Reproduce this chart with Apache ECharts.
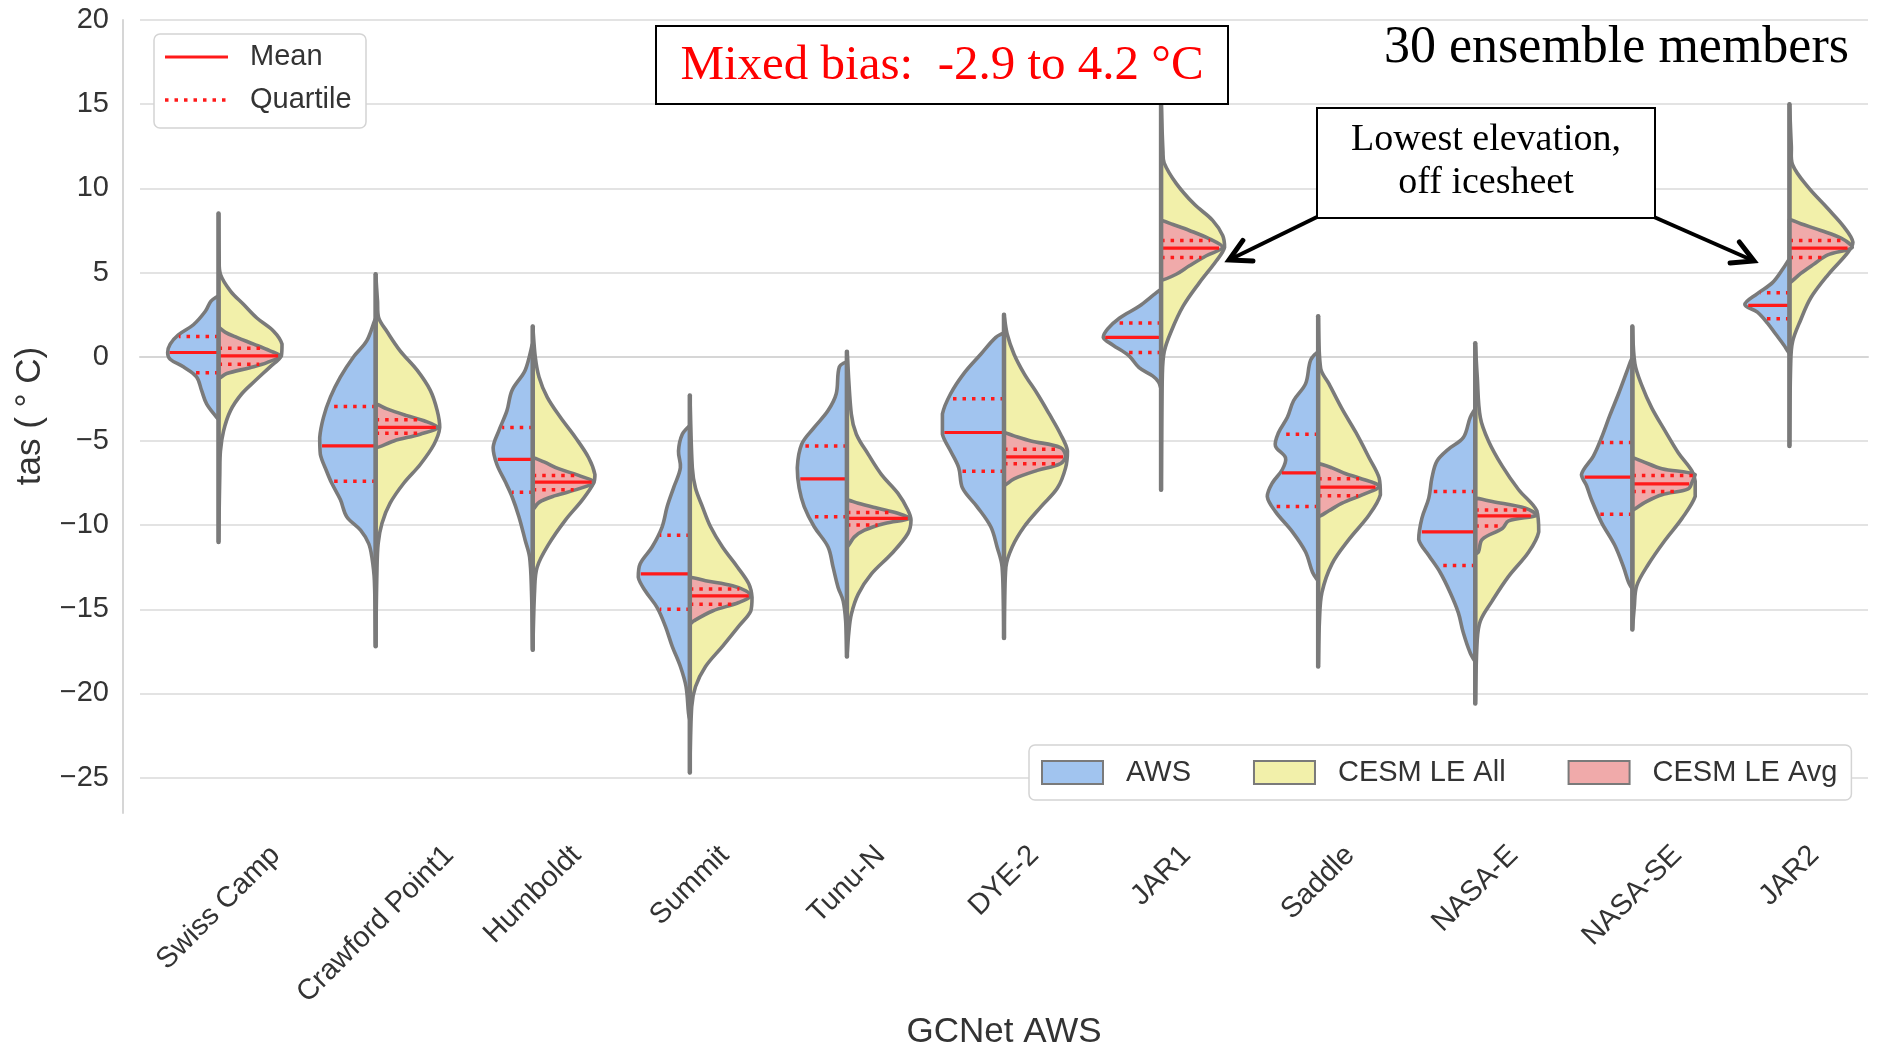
<!DOCTYPE html>
<html>
<head>
<meta charset="utf-8">
<script src="https://cdn.jsdelivr.net/npm/echarts@6/dist/echarts.min.js"></script>
<style>
  html, body { margin: 0; padding: 0; background: #fff; }
  #box { width: 1877px; height: 1054px; }
</style>
</head>
<body>
<div id="box"></div>
<script>
// stations on the x axis
var stations = ['Swiss Camp', 'Crawford Point1', 'Humboldt', 'Summit', 'Tunu-N', 'DYE-2',
  'JAR1', 'Saddle', 'NASA-E', 'NASA-SE', 'JAR2'];

// half-violin outlines, [temperature, relative density], top to bottom
var awsShape = [
  [[3.6,0],[3.3,0.12],[2.7,0.21],[1.9,0.40],[1.3,0.64],[0.75,0.77],[0.25,0.81],[-0.15,0.77],[-0.6,0.56],[-1.2,0.35],[-2.0,0.27],[-2.8,0.19],[-3.6,0.03],[-3.7,0]],
  [[2.3,0],[0.95,0.14],[0,0.35],[-1.2,0.56],[-2.4,0.72],[-3.6,0.83],[-4.8,0.89],[-5.8,0.88],[-6.8,0.78],[-7.5,0.70],[-8.5,0.56],[-9.5,0.46],[-10.3,0.24],[-11.1,0.11],[-11.9,0.06],[-13.3,0.02],[-17.2,0]],
  [[0.8,0],[-0.8,0.12],[-2.0,0.33],[-3.2,0.41],[-4.4,0.54],[-5.4,0.63],[-6.4,0.57],[-7.4,0.44],[-8.3,0.33],[-9.5,0.22],[-10.9,0.12],[-11.9,0.05],[-13.9,0.02],[-17.4,0]],
  [[-4.1,0],[-4.6,0.12],[-5.6,0.18],[-6.6,0.15],[-7.8,0.26],[-8.9,0.36],[-10.1,0.44],[-11.3,0.60],[-12.3,0.79],[-13.1,0.82],[-13.9,0.71],[-14.9,0.52],[-16.0,0.39],[-17.2,0.28],[-18.4,0.15],[-19.6,0.06],[-21.2,0.02],[-21.6,0]],
  [[-0.3,0],[-0.6,0.12],[-2.2,0.17],[-3.2,0.30],[-4.2,0.52],[-5.2,0.72],[-6.6,0.79],[-7.8,0.76],[-8.9,0.68],[-10.1,0.52],[-11.3,0.30],[-12.5,0.22],[-13.7,0.14],[-14.5,0.06],[-15.7,0.02],[-17.8,0]],
  [[1.4,0],[1.15,0.13],[0.15,0.37],[-1.0,0.64],[-2.2,0.85],[-3.4,0.98],[-4.6,0.98],[-5.6,0.85],[-6.6,0.72],[-7.8,0.66],[-8.9,0.43],[-10.1,0.21],[-11.3,0.11],[-12.5,0.03],[-16.7,0]],
  [[4.0,0],[3.7,0.11],[3.0,0.35],[2.3,0.66],[1.65,0.85],[1.15,0.92],[0.7,0.77],[0.05,0.51],[-0.65,0.35],[-1.15,0.13],[-1.5,0.04],[-1.9,0]],
  [[0.3,0],[-0.2,0.12],[-1.6,0.20],[-2.6,0.39],[-3.6,0.49],[-4.5,0.63],[-5.3,0.68],[-6.0,0.52],[-6.7,0.57],[-7.5,0.73],[-8.3,0.81],[-9.2,0.68],[-10.4,0.41],[-11.6,0.20],[-12.8,0.09],[-13.3,0]],
  [[-3.1,0],[-3.6,0.08],[-4.8,0.19],[-5.5,0.43],[-6.2,0.61],[-7.2,0.69],[-8.4,0.74],[-9.6,0.85],[-10.85,0.90],[-11.8,0.74],[-12.8,0.56],[-14.0,0.40],[-15.2,0.27],[-16.4,0.19],[-17.6,0.08],[-18.1,0]],
  [[0.0,0],[-0.9,0.09],[-2.2,0.22],[-3.5,0.36],[-4.8,0.49],[-5.9,0.62],[-7.0,0.81],[-7.65,0.73],[-8.5,0.65],[-9.85,0.49],[-11.2,0.28],[-12.5,0.14],[-13.4,0.06],[-13.8,0]],
  [[5.8,0],[5.3,0.09],[4.4,0.27],[3.75,0.51],[3.1,0.71],[2.65,0.51],[2.0,0.35],[1.35,0.22],[0.7,0.09],[0.2,0]]
];

var cesmAllShape = [
  [[8.5,0],[5.9,0.01],[4.9,0.03],[3.9,0.19],[3.1,0.40],[2.3,0.61],[1.5,0.88],[0.75,1.01],[0.05,1.0],[-0.6,0.82],[-1.4,0.59],[-2.2,0.37],[-3.2,0.19],[-4.4,0.08],[-5.6,0.03],[-7.0,0.02],[-11.0,0]],
  [[4.9,0],[3.3,0.03],[2.3,0.05],[1.5,0.18],[0.35,0.39],[-0.8,0.66],[-2.0,0.87],[-3.2,0.98],[-4.2,1.02],[-5.2,0.93],[-6.4,0.71],[-7.5,0.45],[-8.7,0.23],[-9.9,0.10],[-11.1,0.04],[-12.9,0.02],[-17.2,0]],
  [[1.8,0],[0,0.04],[-1.2,0.10],[-2.4,0.23],[-3.6,0.44],[-4.8,0.68],[-6.0,0.89],[-7.0,0.99],[-7.5,0.97],[-8.5,0.79],[-9.7,0.52],[-11.1,0.26],[-12.5,0.07],[-13.9,0.03],[-17.4,0]],
  [[-2.3,0],[-6.6,0.04],[-7.8,0.09],[-8.9,0.20],[-10.1,0.33],[-11.3,0.52],[-12.5,0.76],[-13.5,0.94],[-14.3,0.99],[-15.1,0.97],[-16.0,0.78],[-17.2,0.52],[-18.4,0.25],[-19.6,0.09],[-20.8,0.03],[-24.7,0]],
  [[0.3,0],[-3.4,0.07],[-4.6,0.15],[-5.8,0.34],[-7.0,0.55],[-8.1,0.81],[-9.1,0.97],[-9.7,1.02],[-10.5,0.97],[-11.7,0.71],[-12.9,0.39],[-14.1,0.18],[-15.3,0.07],[-16.4,0.03],[-17.8,0]],
  [[2.5,0],[1.35,0.05],[0.15,0.16],[-1.0,0.32],[-2.2,0.53],[-3.4,0.72],[-4.6,0.90],[-5.6,1.01],[-6.6,0.98],[-7.8,0.85],[-8.9,0.59],[-10.1,0.32],[-11.3,0.13],[-12.5,0.03],[-16.7,0]],
  [[15.0,0],[12.2,0.03],[11.5,0.05],[10.3,0.24],[9.05,0.53],[8.1,0.82],[7.2,0.98],[6.5,1.01],[5.7,0.88],[4.4,0.61],[3.0,0.35],[1.5,0.16],[0.3,0.05],[-1.1,0.02],[-7.9,0]],
  [[2.4,0],[-0.7,0.04],[-1.6,0.17],[-3.1,0.38],[-4.5,0.60],[-6.0,0.81],[-7.2,0.97],[-8.2,0.99],[-9.4,0.81],[-10.85,0.49],[-12.3,0.22],[-14.0,0.06],[-15.7,0.02],[-18.4,0]],
  [[0.8,0],[-1.1,0.03],[-3.6,0.08],[-5.0,0.21],[-6.5,0.43],[-7.9,0.69],[-9.15,0.98],[-10.4,1.01],[-11.6,0.85],[-13.05,0.53],[-14.5,0.27],[-15.7,0.08],[-16.9,0.03],[-20.6,0]],
  [[1.8,0],[-0.4,0.04],[-1.7,0.15],[-3.05,0.31],[-4.4,0.52],[-5.7,0.73],[-6.8,0.95],[-7.4,1.0],[-8.3,1.0],[-9.6,0.79],[-10.9,0.52],[-12.3,0.26],[-13.6,0.07],[-14.9,0.03],[-16.2,0]],
  [[15.0,0],[12.5,0.03],[11.4,0.05],[10.1,0.29],[8.8,0.61],[7.7,0.87],[6.8,1.01],[6.2,0.93],[4.85,0.61],[3.5,0.34],[2.2,0.18],[0.9,0.05],[-0.4,0.02],[-5.3,0]]
];

var cesmAvgShape = [
  [[1.75,0],[1.45,0.11],[1.15,0.29],[0.75,0.56],[0.35,0.82],[0.05,0.98],[-0.35,0.77],[-0.65,0.50],[-1.0,0.13],[-1.3,0]],
  [[-2.8,0],[-3.1,0.18],[-3.5,0.50],[-3.8,0.77],[-4.2,0.99],[-4.6,0.71],[-5.0,0.29],[-5.4,0]],
  [[-6.0,0],[-6.25,0.18],[-6.65,0.41],[-7.05,0.73],[-7.45,0.97],[-7.85,0.73],[-8.25,0.36],[-8.65,0.10],[-9.1,0]],
  [[-13.1,0],[-13.3,0.25],[-13.6,0.68],[-13.9,0.89],[-14.2,0.97],[-14.6,0.78],[-15.1,0.36],[-15.7,0.06],[-15.9,0]],
  [[-8.5,0],[-8.7,0.18],[-9.0,0.49],[-9.3,0.81],[-9.6,1.0],[-9.9,0.60],[-10.3,0.28],[-10.7,0.12],[-11.3,0]],
  [[-4.5,0],[-4.7,0.16],[-5.0,0.43],[-5.4,0.90],[-5.9,0.98],[-6.35,0.90],[-6.75,0.53],[-7.25,0.16],[-7.65,0]],
  [[8.1,0],[7.85,0.19],[7.5,0.45],[7.0,0.77],[6.5,0.98],[6.0,0.72],[5.4,0.45],[4.9,0.24],[4.55,0]],
  [[-6.35,0],[-6.6,0.22],[-6.95,0.44],[-7.2,0.65],[-7.7,0.97],[-8.2,0.70],[-8.7,0.38],[-9.15,0.17],[-9.5,0]],
  [[-8.4,0],[-8.6,0.27],[-9.0,0.80],[-9.4,0.98],[-9.75,0.53],[-10.2,0.43],[-10.85,0.11],[-11.6,0.05],[-11.7,0]],
  [[-6.0,0],[-6.2,0.15],[-6.65,0.47],[-7.0,1.0],[-7.45,0.95],[-7.85,0.89],[-8.2,0.47],[-8.65,0.20],[-9.1,0]],
  [[8.15,0],[7.9,0.18],[7.5,0.50],[7.05,0.82],[6.5,1.0],[6.05,0.61],[5.5,0.39],[4.95,0.18],[4.4,0]]
];

// mean and quartiles (upper / lower)
var awsMean = [0.25, -5.3, -6.1, -12.9, -7.25, -4.5, 1.15, -6.9, -10.4, -7.15, 3.05];
var awsQ3 = [1.2, -2.95, -4.2, -10.6, -5.3, -2.5, 2.0, -4.6, -8.0, -5.1, 3.8];
var awsQ1 = [-0.95, -7.4, -8.05, -15.0, -9.5, -6.8, 0.25, -8.9, -12.4, -9.35, 2.25];
var avgMean = [0.05, -4.2, -7.45, -14.2, -9.6, -5.95, 6.45, -7.75, -9.45, -7.55, 6.45];
var avgQ3 = [0.5, -3.75, -7.05, -13.8, -9.25, -5.5, 6.9, -7.25, -9.1, -7.05, 6.9];
var avgQ1 = [-0.45, -4.55, -7.9, -14.7, -10.0, -6.35, 5.9, -8.25, -10.05, -8.0, 5.9];

var yTicks = [-25, -20, -15, -10, -5, 0, 5, 10, 15, 20];
var yMin = -27.1, yMax = 20;

var BLUE = '#a1c4ef', YELLOW = '#f2f0aa', PINK = '#f0aaaa';
var EDGE = '#7a7a7a', RED = '#ff1a1a';
var SANS = '"Liberation Sans", Arial, sans-serif';
var SERIF = '"Liberation Serif", "Times New Roman", serif';

var myChart = echarts.init(document.getElementById('box'));

function widthAt(prof, v) {
  for (var k = 0; k < prof.length - 1; k++) {
    var a = prof[k], b = prof[k + 1];
    if (v <= a[0] && v >= b[0]) {
      var t = (a[0] - v) / (a[0] - b[0] || 1);
      return a[1] + (b[1] - a[1]) * t;
    }
  }
  return 0;
}

function halfViolin(api, i, prof, side, fill) {
  var hw = api.size([1, 0])[0] * 0.4;
  var cx = api.coord([i, 0])[0];
  var pts = prof.map(function (p) {
    return [cx + side * p[1] * hw, api.coord([i, p[0]])[1]];
  });
  var top = prof[0][0], bot = prof[prof.length - 1][0];
  for (var k = 1; k < 4; k++) {
    pts.push([cx, api.coord([i, bot + (top - bot) * k / 4])[1]]);
  }
  var xs = pts.map(function (p) { return p[0]; });
  var ys = pts.map(function (p) { return p[1]; });
  var box = [[Math.min.apply(null, xs), Math.min.apply(null, ys)], [Math.max.apply(null, xs), Math.max.apply(null, ys)]];
  return {
    type: 'polygon',
    shape: { points: pts, smooth: 0.35, smoothConstraint: box },
    style: { fill: fill, stroke: EDGE, lineWidth: 3.6, lineJoin: 'round' }
  };
}

function statLine(api, i, prof, side, v, dotted) {
  var hw = api.size([1, 0])[0] * 0.4;
  var cx = api.coord([i, 0])[0];
  var y = api.coord([i, v])[1];
  var w = widthAt(prof, v) * hw - 2;
  return {
    type: 'line',
    shape: { x1: cx, y1: y, x2: cx + side * w, y2: y },
    style: { stroke: RED, lineWidth: dotted ? 3.5 : 3.2, lineDash: dotted ? [3.5, 6] : null }
  };
}

function renderAll(params, api) {
  var i = params.dataIndex;
  return { type: 'group', children: [halfViolin(api, i, cesmAllShape[i], 1, YELLOW)] };
}

function renderAvg(params, api) {
  var i = params.dataIndex, p = cesmAvgShape[i];
  return {
    type: 'group',
    children: [
      halfViolin(api, i, p, 1, PINK),
      statLine(api, i, p, 1, avgQ3[i], true),
      statLine(api, i, p, 1, avgQ1[i], true),
      statLine(api, i, p, 1, avgMean[i], false)
    ]
  };
}

function renderAws(params, api) {
  var i = params.dataIndex, p = awsShape[i];
  return {
    type: 'group',
    children: [
      halfViolin(api, i, p, -1, BLUE),
      statLine(api, i, p, -1, awsQ3[i], true),
      statLine(api, i, p, -1, awsQ1[i], true),
      statLine(api, i, p, -1, awsMean[i], false)
    ]
  };
}

// the grey split line running through every violin
function renderStem(params, api) {
  var i = params.dataIndex;
  var all = [awsShape[i], cesmAllShape[i], cesmAvgShape[i]];
  var top = Math.max.apply(null, all.map(function (p) { return p[0][0]; }));
  var bot = Math.min.apply(null, all.map(function (p) { return p[p.length - 1][0]; }));
  var a = api.coord([i, top]), b = api.coord([i, bot]);
  return {
    type: 'line',
    shape: { x1: a[0], y1: a[1], x2: b[0], y2: b[1] },
    style: { stroke: EDGE, lineWidth: 4.5, lineCap: 'round' }
  };
}

var measureCtx = document.createElement('canvas').getContext('2d');
measureCtx.font = '29px ' + SANS;

// rotated tick labels, centred under each violin like matplotlib
function renderLabel(params, api) {
  var i = params.dataIndex;
  var cx = api.coord([i, 0])[0];
  var top = api.coord([i, yMin])[1] + 30;
  var w = measureCtx.measureText(stations[i]).width;
  var half = (w + 22) * Math.SQRT1_2 / 2;
  return {
    type: 'text',
    x: cx,
    y: top + half,
    rotation: Math.PI / 4,
    style: { text: stations[i], font: '29px ' + SANS, fill: '#333', align: 'center', verticalAlign: 'middle' }
  };
}

var seriesData = stations.map(function (s, i) { return [i, awsMean[i]]; });

function arrow(x1, y1, x2, y2) {
  var ang = Math.atan2(y2 - y1, x2 - x1), len = 24, spread = 0.5;
  var p1 = [x2 - len * Math.cos(ang - spread), y2 - len * Math.sin(ang - spread)];
  var p2 = [x2 - len * Math.cos(ang + spread), y2 - len * Math.sin(ang + spread)];
  return [
    { type: 'line', shape: { x1: x1, y1: y1, x2: x2, y2: y2 }, style: { stroke: '#000', lineWidth: 4 } },
    { type: 'polyline', shape: { points: [p1, [x2, y2], p2] }, style: { stroke: '#000', lineWidth: 5, fill: null, lineCap: 'round', lineJoin: 'miter' } }
  ];
}

var option = {
  animation: false,
  backgroundColor: '#fff',
  grid: { left: 140, right: 9, top: 20, bottom: 241, containLabel: false },
  xAxis: {
    type: 'category',
    data: stations,
    offset: 15,
    axisLine: { lineStyle: { color: '#d6d6d6', width: 2 } },
    axisTick: { show: false },
    axisLabel: { show: false },
    splitLine: { show: false }
  },
  yAxis: {
    type: 'value',
    min: yMin,
    max: yMax,
    minInterval: 5,
    maxInterval: 5,
    offset: 17,
    axisLine: { show: true, lineStyle: { color: '#d6d6d6', width: 2 } },
    axisTick: { show: false },
    axisLabel: {
      margin: 14,
      fontSize: 29,
      fontFamily: SANS,
      color: '#333',
      showMinLabel: false,
      formatter: function (v) {
        return yTicks.indexOf(v) >= 0 ? String(v).replace('-', '\u2212') : '';
      }
    },
    splitLine: { show: true, showMinLine: false, lineStyle: { color: '#e3e3e3', width: 2 } }
  },
  legend: {
    data: ['AWS', 'CESM LE All', 'CESM LE Avg'],
    left: 1029,
    top: 745,
    icon: 'rect',
    itemWidth: 61,
    itemHeight: 23,
    itemGap: 62,
    padding: [13, 14, 13, 12],
    backgroundColor: '#fff',
    borderColor: '#d4d4d4',
    borderWidth: 1.5,
    borderRadius: 6,
    selectedMode: false,
    itemStyle: { borderColor: EDGE, borderWidth: 2 },
    textStyle: { fontSize: 29, fontFamily: SANS, color: '#333', padding: [0, 0, 0, 18] }
  },
  series: [
    { name: 'CESM LE All', type: 'custom', data: seriesData, renderItem: renderAll, itemStyle: { color: YELLOW }, z: 2 },
    { name: 'CESM LE Avg', type: 'custom', data: seriesData, renderItem: renderAvg, itemStyle: { color: PINK }, z: 3 },
    { name: 'AWS', type: 'custom', data: seriesData, renderItem: renderAws, itemStyle: { color: BLUE }, z: 4 },
    { type: 'custom', data: seriesData, renderItem: renderStem, silent: true, z: 5 },
    { type: 'custom', data: seriesData, renderItem: renderLabel, silent: true, clip: false, z: 5 }
  ],
  graphic: [
    // axis titles
    { type: 'text', x: 30, y: 416, rotation: Math.PI / 2, z: 10,
      style: { text: 'tas ( \u00b0 C)', font: '35px ' + SANS, fill: '#333', align: 'center', verticalAlign: 'middle' } },
    { type: 'text', x: 1004, y: 1032, z: 10,
      style: { text: 'GCNet AWS', font: '35px ' + SANS, fill: '#333', align: 'center', verticalAlign: 'middle' } },
    // mean / quartile key
    { type: 'rect', shape: { x: 154, y: 34, width: 212, height: 94, r: 6 }, z: 10,
      style: { fill: '#fff', stroke: '#d4d4d4', lineWidth: 1.5 } },
    { type: 'line', shape: { x1: 165, y1: 57, x2: 228, y2: 57 }, z: 11, style: { stroke: RED, lineWidth: 3.2 } },
    { type: 'line', shape: { x1: 165, y1: 100, x2: 228, y2: 100 }, z: 11, style: { stroke: RED, lineWidth: 3.5, lineDash: [3.5, 6] } },
    { type: 'text', x: 250, y: 57, z: 11, style: { text: 'Mean', font: '29px ' + SANS, fill: '#333', verticalAlign: 'middle' } },
    { type: 'text', x: 250, y: 100, z: 11, style: { text: 'Quartile', font: '29px ' + SANS, fill: '#333', verticalAlign: 'middle' } },
    // bias box
    { type: 'rect', shape: { x: 656, y: 26, width: 572, height: 78 }, z: 10,
      style: { fill: '#fff', stroke: '#000', lineWidth: 2 } },
    { type: 'text', x: 942, y: 66, z: 11,
      style: { text: 'Mixed bias:  -2.9 to 4.2 \u00b0C', font: '49px ' + SERIF, fill: '#ff0000', align: 'center', verticalAlign: 'middle' } },
    { type: 'text', x: 1849, y: 48, z: 11,
      style: { text: '30 ensemble members', font: '52px ' + SERIF, fill: '#000', align: 'right', verticalAlign: 'middle' } },
    // elevation note
    { type: 'rect', shape: { x: 1317, y: 108, width: 338, height: 110 }, z: 10,
      style: { fill: '#fff', stroke: '#000', lineWidth: 2 } },
    { type: 'text', x: 1486, y: 162, z: 11,
      style: { text: 'Lowest elevation,\noff icesheet', font: '38px ' + SERIF, lineHeight: 43, fill: '#000', align: 'center', verticalAlign: 'middle' } }
  ].concat(arrow(1317, 217, 1229, 260)).concat(arrow(1654, 217, 1754, 261)).map(function (g) {
    if (g.z == null) g.z = 11;
    return g;
  })
};

myChart.setOption(option);
</script>
</body>
</html>
